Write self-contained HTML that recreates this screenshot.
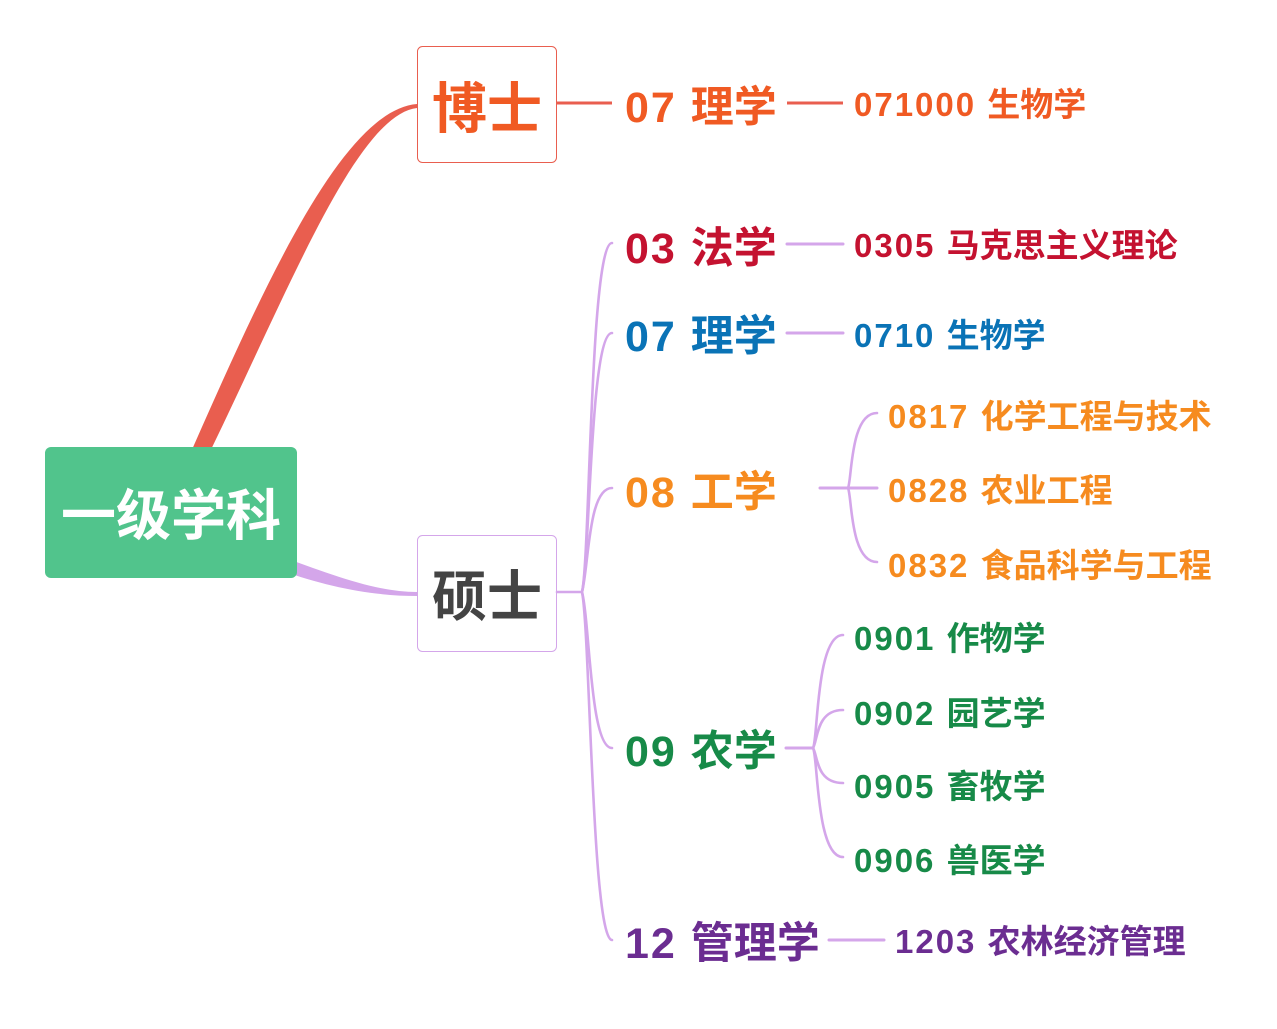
<!DOCTYPE html>
<html><head><meta charset="utf-8"><style>
html,body{margin:0;padding:0;background:#fff;}
svg{display:block;}
text{font-family:"Liberation Sans","Noto Sans CJK SC",sans-serif;font-weight:bold;}
.d2{letter-spacing:2px;}
</style></head><body>
<svg width="1277" height="1029" viewBox="0 0 1277 1029" xmlns="http://www.w3.org/2000/svg">
<rect width="1277" height="1029" fill="#fff"/>
<!-- tapered main branches -->
<path d="M183,470 C258,300 340,110 417,104 L417,108 C355,115 285,300 201,470 Z" fill="#e95e4f"/>
<path d="M280,556 C330,574 375,592 417,592 L417,596 C375,596 330,588 280,570 Z" fill="#d4a6ea"/>
<!-- root -->
<rect x="45" y="447" width="252" height="131" rx="6" fill="#51c48c"/>
<text x="171" y="535" font-size="55" fill="#fff" text-anchor="middle">一级学科</text>
<!-- 博士 -->
<rect x="417.5" y="46.5" width="139" height="116" rx="5" fill="#fff" stroke="#e95e4f" stroke-width="1"/>
<text x="487" y="128" font-size="55" fill="#f05a23" text-anchor="middle">博士</text>
<line x1="557" y1="103" x2="612" y2="103" stroke="#e95e4f" stroke-width="3"/>
<!-- 硕士 -->
<rect x="417.5" y="535.5" width="139" height="116" rx="5" fill="#fff" stroke="#d4a6ea" stroke-width="1"/>
<text x="487" y="616" font-size="55" fill="#444444" text-anchor="middle">硕士</text>
<g fill="none" stroke="#d4a6ea" stroke-width="2.6" stroke-linecap="round">
<line x1="557" y1="592" x2="582" y2="592"/>
<path d="M582,592 C590,560 590,243 612,243"/>
<path d="M582,592 C590,560 590,333 612,333"/>
<path d="M582,592 C589,565 588,488 612,488"/>
<path d="M582,592 C590,624 590,748 612,748"/>
<path d="M582,592 C590,630 592,940 612,940"/>
<!-- level 2 to level 3 -->
<line x1="787" y1="244" x2="843" y2="244" stroke-width="3"/>
<line x1="787" y1="333" x2="843" y2="333" stroke-width="3"/>
<line x1="820" y1="488" x2="877" y2="488" stroke-width="3"/>
<path d="M848,488 C852,480 850,413 877,413"/>
<path d="M848,488 C852,496 850,562 877,562"/>
<line x1="786" y1="748" x2="813" y2="748" stroke-width="3"/>
<path d="M813,748 C818,740 816,635 843,635"/>
<path d="M813,748 C818,740 816,710 843,710"/>
<path d="M813,748 C818,756 816,783 843,783"/>
<path d="M813,748 C818,756 816,857 843,857"/>
<line x1="829" y1="940" x2="884" y2="940" stroke-width="3"/>
</g>
<line x1="787" y1="103" x2="843" y2="103" stroke="#e95e4f" stroke-width="3"/>
<!-- level 2 texts -->
<g font-size="43">
<text x="625" y="122" fill="#f05a23"><tspan class="d2">07 </tspan>理学</text>
<text x="625" y="263" fill="#c41230"><tspan class="d2">03 </tspan>法学</text>
<text x="625" y="351" fill="#0a73b6"><tspan class="d2">07 </tspan>理学</text>
<text x="625" y="507" fill="#f68b1f"><tspan class="d2">08 </tspan>工学</text>
<text x="625" y="766" fill="#178a48"><tspan class="d2">09 </tspan>农学</text>
<text x="625" y="958" fill="#6b2d91"><tspan class="d2">12 </tspan>管理学</text>
</g>
<!-- level 3 texts -->
<g font-size="33">
<text x="854" y="116" fill="#f05a23"><tspan class="d2">071000 </tspan>生物学</text>
<text x="854" y="257" fill="#c41230"><tspan class="d2">0305 </tspan>马克思主义理论</text>
<text x="854" y="347" fill="#0a73b6"><tspan class="d2">0710 </tspan>生物学</text>
<text x="888" y="428" fill="#f68b1f"><tspan class="d2">0817 </tspan>化学工程与技术</text>
<text x="888" y="502" fill="#f68b1f"><tspan class="d2">0828 </tspan>农业工程</text>
<text x="888" y="577" fill="#f68b1f"><tspan class="d2">0832 </tspan>食品科学与工程</text>
<text x="854" y="650" fill="#178a48"><tspan class="d2">0901 </tspan>作物学</text>
<text x="854" y="725" fill="#178a48"><tspan class="d2">0902 </tspan>园艺学</text>
<text x="854" y="798" fill="#178a48"><tspan class="d2">0905 </tspan>畜牧学</text>
<text x="854" y="872" fill="#178a48"><tspan class="d2">0906 </tspan>兽医学</text>
<text x="895" y="953" fill="#6b2d91"><tspan class="d2">1203 </tspan>农林经济管理</text>
</g>
</svg>
</body></html>
